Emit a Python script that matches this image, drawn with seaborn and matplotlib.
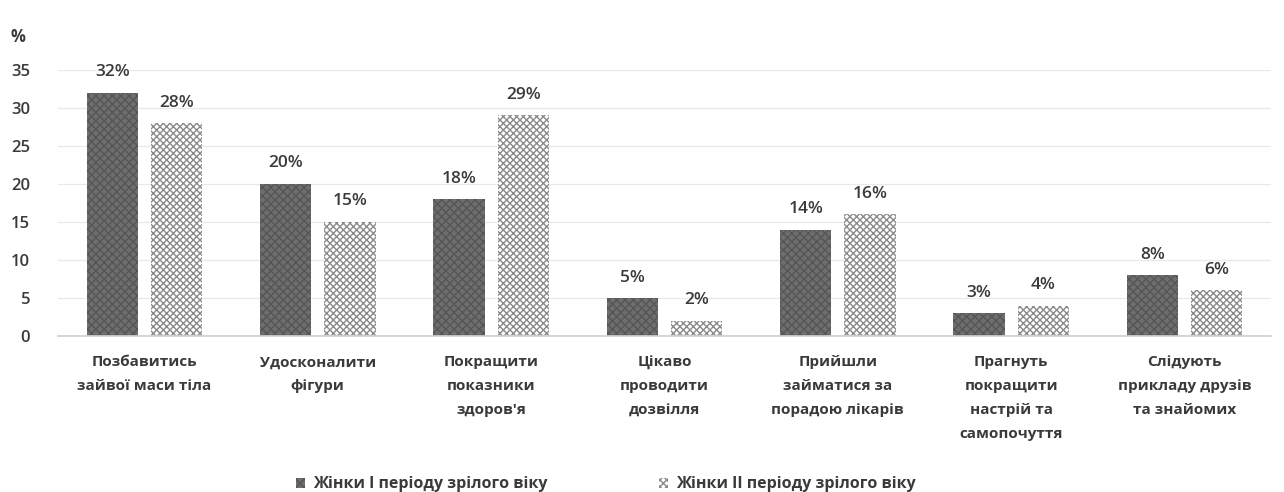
import matplotlib
matplotlib.use("Agg")
import matplotlib.pyplot as plt
from matplotlib.patches import Patch
import seaborn as sns
import pandas as pd

categories = [
    "Позбавитись\nзайвої маси тіла",
    "Удосконалити\nфігури",
    "Покращити\nпоказники\nздоров'я",
    "Цікаво\nпроводити\nдозвілля",
    "Прийшли\nзайматися за\nпорадою лікарів",
    "Прагнуть\nпокращити\nнастрій та\nсамопочуття",
    "Слідують\nприкладу друзів\nта знайомих",
]
series_names = ["Жінки І періоду зрілого віку", "Жінки ІІ періоду зрілого віку"]
values_period1 = [32, 20, 18, 5, 14, 3, 8]
values_period2 = [28, 15, 29, 2, 16, 4, 6]
y_ticks = [0, 5, 10, 15, 20, 25, 30, 35]

df = pd.DataFrame({
    "category": categories * 2,
    "group": [series_names[0]] * len(categories) + [series_names[1]] * len(categories),
    "value": values_period1 + values_period2,
})

sns.set_theme(style="white")
plt.rcParams["font.family"] = ["Open Sans", "DejaVu Sans"]
plt.rcParams["hatch.linewidth"] = 1.0

fig = plt.figure(figsize=(12.84, 4.92), dpi=100)
ax = fig.add_axes([0.045, 0.317, 0.945, 0.541])

sns.barplot(data=df, x="category", y="value", hue="group", order=categories,
            hue_order=series_names, width=0.74, gap=0.2, ax=ax,
            palette=["#6e6e6e", "#ffffff"], legend=False, saturation=1)

dark_fill, light_edge = "#6e6e6e", "#8a8a8a"
for cont_i, cont in enumerate(ax.containers):
    for bar in cont:
        if cont_i == 0:
            bar.set_facecolor(dark_fill)
            bar.set_edgecolor("#565656")
            bar.set_hatch("xxxx")
        else:
            bar.set_facecolor("white")
            bar.set_edgecolor(light_edge)
            bar.set_hatch("xxxxx")
        bar.set_linewidth(0)
    ax.bar_label(cont, labels=[f"{int(v)}%" for v in cont.datavalues],
                 padding=9, fontsize=12.5, fontweight="semibold", color="#3a3a3a")

ax.set_ylim(0, 35)
ax.set_yticks(y_ticks)
ax.set_xlim(-0.5, len(categories) - 0.5)
ax.yaxis.grid(True, color="#e8e8e8", linewidth=0.9)
ax.set_axisbelow(True)
for s in ["top", "right", "left"]:
    ax.spines[s].set_visible(False)
ax.spines["bottom"].set_color("#d0d0d0")
ax.set_xlabel("")
ax.set_ylabel("")
ax.tick_params(axis="y", labelsize=12, colors="#3a3a3a", length=0, pad=20)
ax.tick_params(axis="x", labelsize=11, colors="#3a3a3a", length=0, pad=14)
for lbl in ax.get_yticklabels():
    lbl.set_fontweight("semibold")
for lbl in ax.get_xticklabels():
    lbl.set_fontweight("bold")
    lbl.set_linespacing(1.9)

fig.text(0.008, 0.915, "%", fontsize=12, color="#3a3a3a", fontweight="bold")

handles = [
    Patch(facecolor=dark_fill, edgecolor="#565656", hatch="xxxx", linewidth=0),
    Patch(facecolor="white", edgecolor=light_edge, hatch="xxxxx", linewidth=0),
]
fig.legend(handles, series_names, loc="lower center", ncol=2, frameon=False,
           bbox_to_anchor=(0.472, -0.03), handlelength=0.55,
           handleheight=0.55, columnspacing=7, handletextpad=0.5,
           prop={"weight": "bold", "size": 11.5}, labelcolor="#3a3a3a")

fig.savefig("out.png", dpi=100)
